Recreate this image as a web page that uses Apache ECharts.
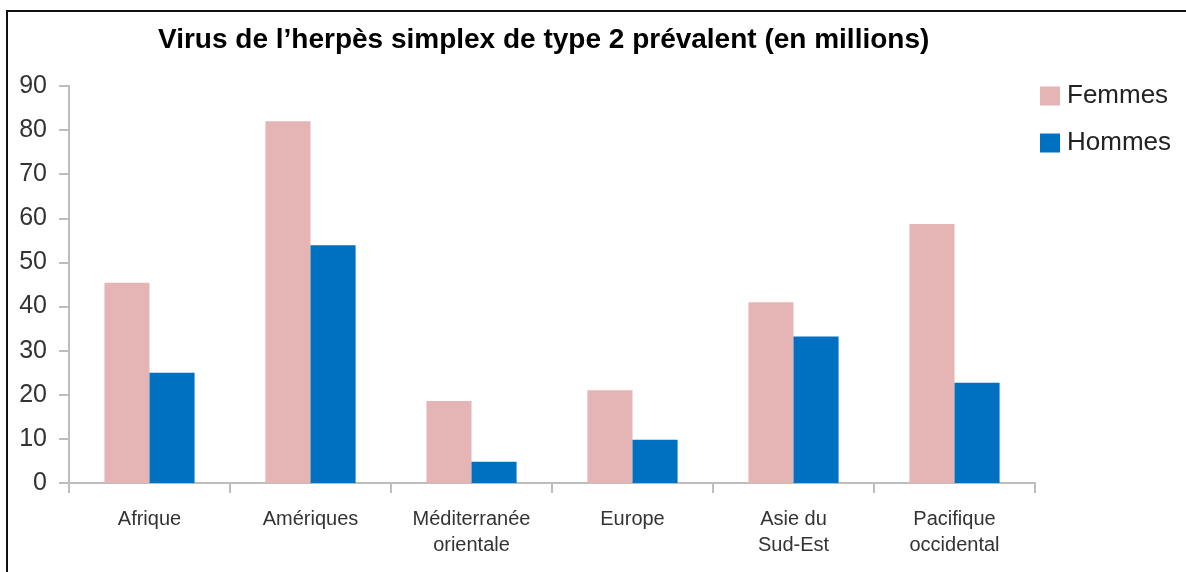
<!DOCTYPE html>
<html>
<head>
<meta charset="utf-8">
<script src="https://cdn.jsdelivr.net/npm/echarts@6/dist/echarts.min.js"></script>
<style>
  html, body { margin: 0; padding: 0; background: #fff; }
  #chart { width: 1186px; height: 572px; }
</style>
</head>
<body>
<div id="chart"></div>
<script>
// data
let regions = ['Afrique', 'Amériques', 'Méditerranée\norientale', 'Europe', 'Asie du\nSud-Est', 'Pacifique\noccidental']
let femmes = [45.4, 82, 18.6, 21, 41, 58.7]
let hommes = [25, 53.9, 4.8, 9.8, 33.2, 22.7]
let yTicks = [0, 10, 20, 30, 40, 50, 60, 70, 80, 90]

let font = '"Liberation Sans", Arial, sans-serif'
let axisGray = '#bdbdbd'

let myChart = echarts.init(document.getElementById('chart'))
let option = {
    backgroundColor: '#fff',
    animation: false,
    title: {
        text: 'Virus de l\u2019herpès simplex de type 2 prévalent (en millions)',
        left: 153,
        top: 21,
        textStyle: { fontFamily: font, fontSize: 28, fontWeight: 'bold', color: '#000' }
    },
    legend: {
        orient: 'vertical',
        left: 1035,
        top: 78,
        itemWidth: 20,
        itemHeight: 19,
        itemGap: 21,
        icon: 'rect',
        textStyle: { fontFamily: font, fontSize: 26, color: '#222', padding: [0, 0, 0, 2] },
        data: ['Femmes', 'Hommes']
    },
    grid: { left: 69, right: 151, top: 86, bottom: 89, containLabel: false },
    xAxis: {
        type: 'category',
        data: regions,
        axisLine: { lineStyle: { color: axisGray, width: 2 } },
        axisTick: { show: true, length: 10, alignWithLabel: false, lineStyle: { color: axisGray, width: 2 } },
        axisLabel: { fontFamily: font, fontSize: 20, color: '#333', margin: 23, lineHeight: 26, interval: 0 }
    },
    yAxis: {
        type: 'value',
        min: yTicks[0],
        max: yTicks[yTicks.length - 1],
        interval: 10,
        splitLine: { show: false },
        axisLine: { show: true, lineStyle: { color: axisGray, width: 2 } },
        axisTick: { show: true, length: 10, lineStyle: { color: axisGray, width: 2 } },
        axisLabel: { fontFamily: font, fontSize: 25, color: '#333', margin: 22 }
    },
    series: [
        {
            name: 'Femmes',
            type: 'bar',
            data: femmes,
            barGap: '0%',
            barCategoryGap: '44%',
            itemStyle: { color: '#E5B5B5' }
        },
        {
            name: 'Hommes',
            type: 'bar',
            data: hommes,
            itemStyle: { color: '#0070C0' }
        }
    ],
    graphic: [
        {
            type: 'polyline',
            shape: { points: [[7, 572], [7, 11], [1186, 11]] },
            style: { stroke: '#111', lineWidth: 2, fill: null }
        }
    ]
}
myChart.setOption(option)
</script>
</body>
</html>
